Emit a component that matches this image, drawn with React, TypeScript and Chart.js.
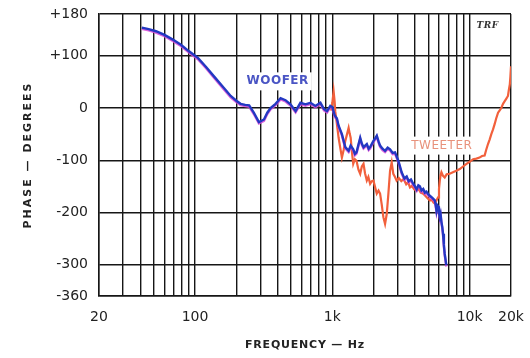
import React, { useEffect, useRef } from "react";
import { Chart, registerables } from "chart.js";

Chart.register(...registerables);

// Frequency grid (Hz) and phase grid (degrees)
const FREQ_TICKS = [
  20, 30, 40, 50, 60, 70, 80, 90,
  100, 200, 300, 400, 500, 600, 700, 800, 900,
  1000, 2000, 3000, 4000, 5000, 6000, 7000, 8000, 9000,
  10000, 20000,
];
const FREQ_LABELED = [20, 100, 1000, 10000, 20000];
const FREQ_LABEL_TEXT = ["20", "100", "1k", "10k", "20k"];

const PHASE_TICKS = [-360, -300, -200, -100, 0, 100, 180];
const PHASE_LABEL_TEXT = ["-360", "-300", "-200", "-100", "0", "+100", "+180"];

// Woofer phase response [Hz, degrees]
const WOOFER: [number, number][] = [
  [41, 154], [46, 151], [52, 147], [60, 140], [69, 131], [79, 121], [90, 109],
  [105, 96], [120, 79], [137, 61], [159, 41], [182, 23], [200, 14], [215, 8],
  [232, 6], [248, 5], [268, -9], [292, -27], [318, -22], [336, -9], [355, 0],
  [386, 8], [420, 19], [456, 15], [496, 7], [540, -6], [586, 10], [637, 7],
  [693, 10], [753, 4], [819, 10], [870, -2], [915, -6], [967, 4], [1000, 2],
  [1040, -14], [1080, -20], [1111, -34], [1174, -50], [1243, -75], [1314, -82],
  [1360, -72], [1420, -79], [1460, -88], [1500, -85], [1550, -70], [1596, -57],
  [1640, -68], [1687, -75], [1783, -69], [1840, -78], [1885, -75], [1993, -63],
  [2050, -58], [2107, -53], [2170, -64], [2227, -72], [2320, -78], [2421, -82],
  [2530, -76], [2633, -79], [2750, -86], [2862, -85], [3025, -101], [3197, -123],
  [3350, -135], [3480, -131], [3600, -140], [3740, -137], [3880, -145],
  [4000, -150], [4113, -156], [4230, -148], [4338, -150], [4460, -158],
  [4593, -155], [4720, -162], [4846, -160], [4990, -165], [5130, -168],
  [5350, -172], [5575, -177], [5650, -185], [5730, -196], [5810, -186],
  [5890, -188], [5970, -200], [6060, -209], [6140, -203], [6230, -218],
  [6320, -228], [6400, -241], [6490, -262], [6580, -279], [6670, -290],
  [6760, -301],
];

// Tweeter phase response [Hz, degrees]
const TWEETER: [number, number][] = [
  [980, -5], [1000, 10], [1022, 32], [1040, 12], [1050, -6], [1080, -31],
  [1111, -57], [1140, -75], [1174, -95], [1210, -80], [1243, -63], [1280, -50],
  [1314, -38], [1340, -50], [1360, -57], [1390, -85], [1420, -107], [1460, -98],
  [1500, -101], [1550, -118], [1596, -126], [1640, -112], [1687, -107],
  [1730, -125], [1783, -139], [1830, -132], [1885, -145], [1940, -140],
  [1993, -139], [2050, -152], [2107, -164], [2170, -158], [2227, -164],
  [2290, -185], [2353, -209], [2421, -222], [2490, -203], [2560, -164],
  [2633, -120], [2706, -104], [2780, -126], [2860, -132], [2940, -139],
  [3050, -134], [3180, -140], [3302, -136], [3450, -146], [3560, -142],
  [3677, -152], [3800, -149], [3950, -156], [4113, -158], [4250, -155],
  [4400, -162], [4593, -164], [4750, -168], [4900, -172], [5130, -177],
  [5300, -176], [5450, -181], [5575, -183], [5700, -178], [5890, -171],
  [5980, -155], [6060, -139], [6150, -128], [6230, -123], [6400, -130],
  [6580, -133], [6800, -127], [7160, -126], [7550, -123], [8000, -120],
  [8470, -117], [8950, -112], [9480, -107], [10000, -103], [10600, -98],
  [11200, -97], [11800, -95], [12300, -92], [12850, -91], [13200, -80],
  [13600, -69], [14000, -60], [14380, -50], [14800, -41], [15200, -31],
  [15600, -20], [16100, -9], [16500, -5], [17000, 0], [17500, 8], [18000, 13],
  [18500, 18], [19000, 23], [19300, 35], [19600, 45], [19800, 60], [20000, 80],
];

// Text annotations placed in data coordinates
const ANNOTATIONS = [
  { text: "WOOFER", freq: 400, phase: 51, color: "#4a55c4", font: "bold 12px 'DejaVu Sans'", box: true },
  { text: "TWEETER", freq: 6270, phase: -72, color: "#e8927c", font: "12px 'DejaVu Sans'", box: true },
  { text: "TRF", freq: 13500, phase: 158, color: "#333", font: "italic bold 9px 'DejaVu Serif'", box: false },
];

const X_TITLE = "FREQUENCY — Hz";
const Y_TITLE = "PHASE — DEGREES";

const WOOFER_COLOR = "#2338c2";
const TWEETER_COLOR = "#f2603c";
const GRID_COLOR = "#161616";
const TEXT_COLOR = "#222";

export default function App() {
  const canvasRef = useRef<HTMLCanvasElement | null>(null);

  useEffect(() => {
    const canvas = canvasRef.current;
    if (!canvas) return;

    const shadowPlugin = {
      id: "wooferShadow",
      beforeDatasetDraw(chart: any, args: any) {
        if (args.index === 0) {
          const ctx = chart.ctx;
          ctx.save();
          ctx.shadowColor = "rgba(215,70,215,0.85)";
          ctx.shadowOffsetX = 0;
          ctx.shadowOffsetY = 1.3;
          ctx.shadowBlur = 0;
        }
      },
      afterDatasetDraw(chart: any, args: any) {
        if (args.index === 0) chart.ctx.restore();
      },
    };

    const textPlugin = {
      id: "texts",
      afterDraw(chart: any) {
        const ctx = chart.ctx as CanvasRenderingContext2D;
        const area = chart.chartArea;
        const xs = chart.scales.x;
        const ys = chart.scales.y;
        ctx.save();
        ctx.fillStyle = TEXT_COLOR;
        ctx.textAlign = "center";
        ctx.textBaseline = "middle";
        // x title
        ctx.font = "bold 11px 'DejaVu Sans'";
        (ctx as any).letterSpacing = "0.8px";
        ctx.fillText(X_TITLE, (area.left + area.right) / 2, 345);
        // y title
        ctx.save();
        ctx.translate(28, (area.top + area.bottom) / 2);
        ctx.rotate(-Math.PI / 2);
        (ctx as any).letterSpacing = "2px";
        ctx.fillText(Y_TITLE, 0, 0);
        ctx.restore();
        (ctx as any).letterSpacing = "0.5px";
        for (const a of ANNOTATIONS) {
          const px = xs.getPixelForValue(a.freq);
          const py = ys.getPixelForValue(a.phase);
          ctx.font = a.font;
          const w = ctx.measureText(a.text).width;
          if (a.box) {
            ctx.fillStyle = "#fff";
            ctx.fillRect(px - w / 2 - 3, py - 9, w + 6, 18);
          }
          ctx.fillStyle = a.color;
          ctx.fillText(a.text, px, py);
        }
        ctx.restore();
      },
    };

    const chart = new Chart(canvas, {
      type: "line",
      data: {
        datasets: [
          {
            label: "Woofer",
            data: WOOFER.map(([x, y]) => ({ x, y })),
            borderColor: WOOFER_COLOR,
            borderWidth: 2.4,
            pointRadius: 0,
            tension: 0,
            fill: false,
          },
          {
            label: "Tweeter",
            data: TWEETER.map(([x, y]) => ({ x, y })),
            borderColor: TWEETER_COLOR,
            borderWidth: 2.2,
            pointRadius: 0,
            tension: 0,
            fill: false,
          },
        ],
      },
      options: {
        responsive: false,
        animation: false,
        events: [],
        layout: { padding: { left: 0, right: 19, top: 14, bottom: 0 } },
        plugins: {
          legend: { display: false },
          tooltip: { enabled: false },
          title: { display: false },
        },
        scales: {
          x: {
            type: "logarithmic",
            min: 20,
            max: 20000,
            afterBuildTicks: (scale: any) => {
              scale.ticks = FREQ_TICKS.map((v) => ({ value: v }));
            },
            afterFit: (scale: any) => {
              scale.height = 62;
              scale.paddingLeft = 0;
              scale.paddingRight = 0;
            },
            ticks: {
              autoSkip: false,
              maxRotation: 0,
              minRotation: 0,
              padding: 13,
              color: TEXT_COLOR,
              font: { family: "'DejaVu Sans'", size: 14 },
              callback: (value: any) => {
                const i = FREQ_LABELED.indexOf(Number(value));
                return i >= 0 ? FREQ_LABEL_TEXT[i] : "";
              },
            },
            grid: { color: GRID_COLOR, lineWidth: 1.4, drawTicks: false },
            border: { color: GRID_COLOR, width: 1.5 },
          },
          y: {
            type: "linear",
            min: -360,
            max: 180,
            afterBuildTicks: (scale: any) => {
              scale.ticks = PHASE_TICKS.map((v) => ({ value: v }));
            },
            afterFit: (scale: any) => {
              scale.width = 99;
              scale.paddingTop = 0;
              scale.paddingBottom = 0;
            },
            ticks: {
              autoSkip: false,
              padding: 11,
              color: TEXT_COLOR,
              font: { family: "'DejaVu Sans'", size: 14 },
              callback: (value: any) => {
                const i = PHASE_TICKS.indexOf(Number(value));
                return i >= 0 ? PHASE_LABEL_TEXT[i] : "";
              },
            },
            grid: { color: GRID_COLOR, lineWidth: 1.4, drawTicks: false },
            border: { color: GRID_COLOR, width: 1.5 },
          },
        },
      },
      plugins: [shadowPlugin, textPlugin],
    } as any);

    return () => chart.destroy();
  }, []);

  return (
    <div
      style={{
        position: "fixed",
        left: 0,
        top: 0,
        width: 530,
        height: 358,
        background: "#fff",
      }}
    >
      <canvas ref={canvasRef} width={530} height={358} />
    </div>
  );
}
